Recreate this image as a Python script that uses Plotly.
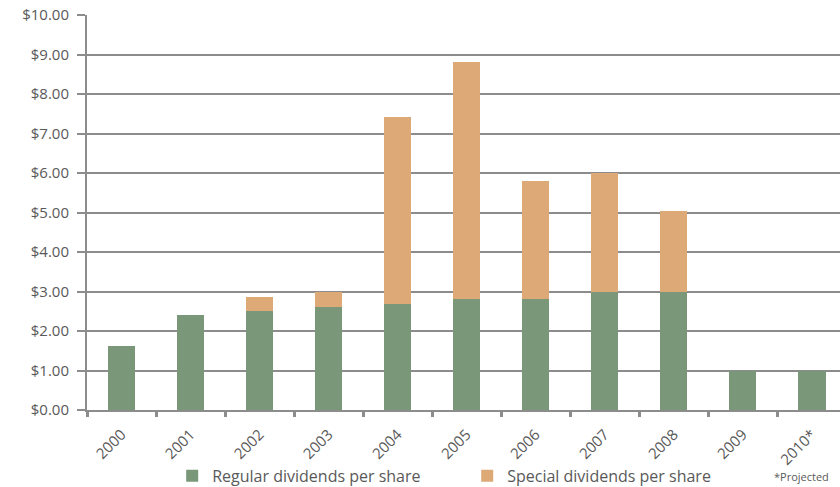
import plotly.graph_objects as go

years = ["2000", "2001", "2002", "2003", "2004", "2005", "2006", "2007", "2008", "2009", "2010*"]
regular = [1.62, 2.41, 2.51, 2.62, 2.69, 2.80, 2.80, 3.00, 3.00, 1.00, 1.00]
special = [0, 0, 0.34, 0.38, 4.74, 6.01, 3.01, 3.01, 2.03, 0, 0]
y_ticks = [0, 1, 2, 3, 4, 5, 6, 7, 8, 9, 10]
y_labels = ["$%.2f" % v for v in y_ticks]

GREEN = "#7A9779"
ORANGE = "#DCA977"
GRID = "#8C8C8C"
TEXT = "#595959"
FONT = "Open Sans"

fig = go.Figure()
fig.add_trace(go.Bar(x=years, y=regular, name="Regular dividends per share",
                     marker=dict(color=GREEN, line=dict(width=0))))
fig.add_trace(go.Bar(x=years, y=special, name="Special dividends per share",
                     marker=dict(color=ORANGE, line=dict(width=0))))

fig.update_layout(
    width=840, height=487,
    barmode="stack", bargap=0.6,
    plot_bgcolor="white", paper_bgcolor="white",
    margin=dict(l=87, r=0, t=15, b=77, autoexpand=False),
    font=dict(family=FONT, color=TEXT, size=15),
    legend=dict(orientation="h", xref="container", x=0.205, y=0.023, yref="container",
                yanchor="middle", xanchor="left", entrywidth=250, traceorder="normal",
                bgcolor="rgba(0,0,0,0)",
                font=dict(size=16, color=TEXT), itemclick=False),
    annotations=[dict(text="*Projected", xref="paper", yref="paper", x=0.91, y=-0.168,
                      xanchor="left", yanchor="middle", showarrow=False,
                      font=dict(size=11, color=TEXT))],
)
fig.update_xaxes(type="category", range=[-0.5, 10.41], tickangle=-45, automargin=False,
                 ticks="outside", tickson="boundaries", ticklen=5, tickwidth=3,
                 tickcolor=GRID, showline=True, linecolor=GRID, linewidth=2,
                 showgrid=False, ticklabelstandoff=8, tickfont=dict(size=15, color=TEXT))
fig.update_yaxes(range=[0, 10], tickvals=y_ticks, ticktext=y_labels, automargin=False,
                 ticks="outside", ticklen=8, tickwidth=2, tickcolor=GRID,
                 showline=True, linecolor=GRID, linewidth=2,
                 showgrid=True, gridcolor=GRID, gridwidth=2, zeroline=False,
                 ticklabelstandoff=5, tickfont=dict(size=15, color=TEXT))

fig.write_html("out.html")
